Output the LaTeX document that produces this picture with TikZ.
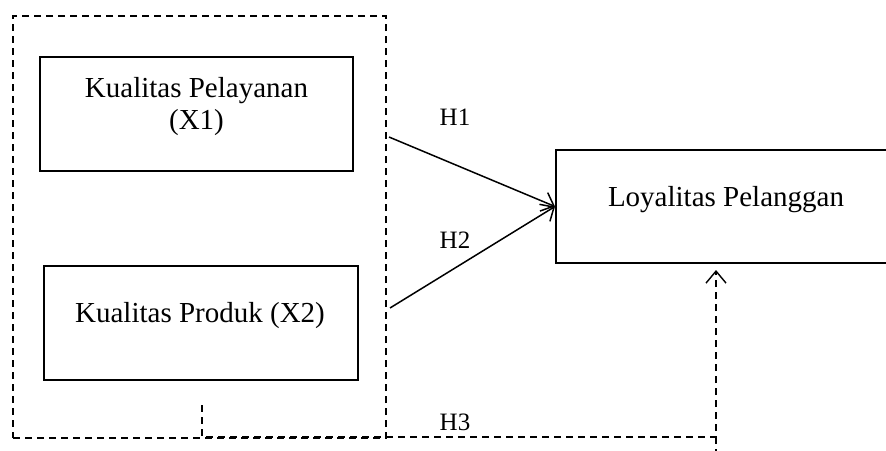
\documentclass[tikz,border=0pt]{standalone}
\usepackage{fontspec}
\setmainfont{Liberation Serif}
\usetikzlibrary{arrows.meta}
\tikzset{
  box/.style={draw, line width=2pt, rectangle, inner sep=0pt},
  boxtext/.style={font=\fontsize{29}{32}\selectfont, align=center, anchor=base, inner sep=0pt},
  hlabel/.style={font=\fontsize{25}{28}\selectfont, inner sep=0pt},
  grpbox/.style={draw, line width=1.6pt, dash pattern=on 7pt off 5pt, rectangle, inner sep=0pt},
  solidarrow/.style={line width=1.5pt, -{Straight Barb[length=11pt, width=20pt, line width=1.5pt]}},
  dasharrow/.style={line width=1.6pt, dash pattern=on 7pt off 5pt, -{Straight Barb[length=12pt, width=20pt, line width=1.4pt]}},
  dashline/.style={line width=1.6pt, dash pattern=on 7pt off 5pt}
}
\begin{document}
\begin{tikzpicture}[x=1pt, y=-1pt]
\useasboundingbox (0,0) rectangle (886,450);
\clip (0,0) rectangle (886,450);
% group frame
\node[grpbox, minimum width=373pt, minimum height=422pt] (grp) at (199.5,227) {};
% boxes
\node[box, minimum width=313pt, minimum height=114pt] (x1) at (196.5,114) {};
\node[box, minimum width=314pt, minimum height=114pt] (x2) at (201,323) {};
\node[box, minimum width=340pt, minimum height=113pt] (loy) at (726,206.5) {};
% texts
\node[boxtext] (x1t) at (196.5,129) {Kualitas Pelayanan\\(X1)};
\node[boxtext] (x2t) at (200,322) {Kualitas Produk (X2)};
\node[boxtext] (loyt) at (726,206) {Loyalitas Pelanggan};
% arrows
\coordinate (h1s) at (389,137);
\coordinate (h2s) at (390,308);
\draw[solidarrow] (h1s) -- (loy.west);
\draw[solidarrow] (h2s) -- (loy.west);
\node[hlabel] (h1) at (455,117) {H1};
\node[hlabel] (h2) at (455,240) {H2};
% H3 dashed path
\coordinate (h3s) at (202,405);
\coordinate (h3c) at (716,437);
\coordinate (h3tail) at (716,452);
\draw[dasharrow, shorten >=6pt] (h3s) |- (h3c) -- (h3c |- loy.south);
\draw[dashline] (h3c) -- (h3tail);
\node[hlabel] (h3) at (455,422) {H3};
\end{tikzpicture}
\end{document}
